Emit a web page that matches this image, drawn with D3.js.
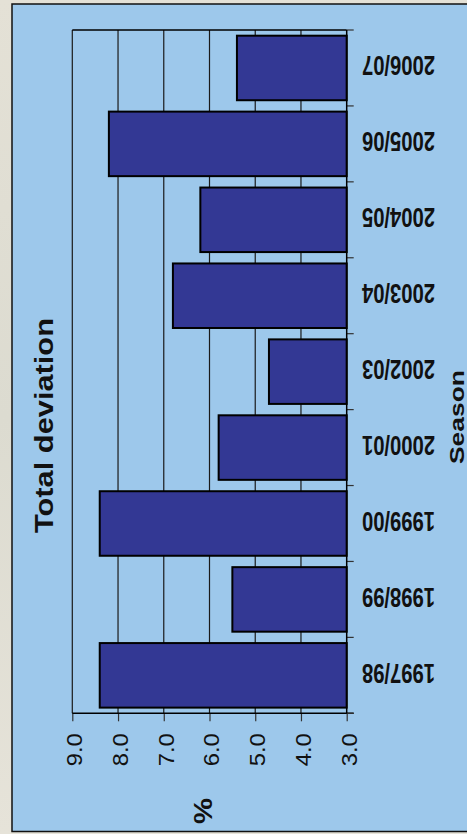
<!DOCTYPE html>
<html>
<head>
<meta charset="utf-8">
<script src="https://cdn.jsdelivr.net/npm/d3@7"></script>
<style>
  html, body { margin: 0; padding: 0; background: #e2dfd4; }
  svg { display: block; }
</style>
</head>
<body>
<script>
// ---- data ----
const categories = ["1997/98", "1998/99", "1999/00", "2000/01", "2002/03", "2003/04", "2004/05", "2005/06", "2006/07"];
const values = [8.4, 5.5, 8.4, 5.8, 4.7, 6.8, 6.2, 8.2, 5.4];
const tickValues = [3, 4, 5, 6, 7, 8, 9];
const tickLabels = ["3.0", "4.0", "5.0", "6.0", "7.0", "8.0", "9.0"];
const titleText = "Total deviation";
const categoryAxisTitle = "Season";
const valueAxisTitle = "%";

const W = 467, H = 834;
const svg = d3.select("body").append("svg").attr("width", W).attr("height", H);

// background texture
const defs = svg.append("defs");
const g1 = defs.append("linearGradient").attr("id", "bg").attr("x1", 0).attr("y1", 0).attr("x2", 0).attr("y2", 1);
g1.append("stop").attr("offset", "0%").attr("stop-color", "#e4e1d6");
g1.append("stop").attr("offset", "50%").attr("stop-color", "#dcdbd0");
g1.append("stop").attr("offset", "100%").attr("stop-color", "#e6e3d9");
svg.append("rect").attr("width", W).attr("height", H).attr("fill", "url(#bg)");

// panel
svg.append("rect")
  .attr("x", 12).attr("y", 4).attr("width", 480).attr("height", 827.5)
  .attr("fill", "#9dc8eb").attr("stroke", "#111").attr("stroke-width", 1.5);

// scales
const plotLeft = 72.3, plotRight = 346.7, plotTop = 30, plotBottom = 713.3;
const x = d3.scaleLinear().domain([3, 9]).range([plotRight, plotLeft]);
const y = d3.scaleBand().domain(categories).range([plotBottom, plotTop])
  .paddingInner(0.15).paddingOuter(0.075);

// gridlines
svg.append("g").selectAll("line").data(tickValues.filter(v => v > 3)).join("line")
  .attr("x1", d => x(d)).attr("x2", d => x(d))
  .attr("y1", plotTop).attr("y2", plotBottom)
  .attr("stroke", "#1a1a1a").attr("stroke-width", 1.2);

// plot top border
svg.append("line").attr("x1", plotLeft).attr("x2", plotRight)
  .attr("y1", plotTop).attr("y2", plotTop).attr("stroke", "#000").attr("stroke-width", 1.5);

// bars
svg.append("g").selectAll("rect").data(categories).join("rect")
  .attr("x", (d, i) => x(values[i]))
  .attr("y", d => y(d))
  .attr("width", (d, i) => x(3) - x(values[i]))
  .attr("height", y.bandwidth())
  .attr("fill", "#333894")
  .attr("stroke", "#000").attr("stroke-width", 2);

// value axis (bottom)
const xAxis = svg.append("g").attr("transform", `translate(0,${plotBottom})`)
  .call(d3.axisBottom(x).tickValues(tickValues).tickSize(8).tickFormat((d, i) => tickLabels[i]));
xAxis.select(".domain").remove();
xAxis.selectAll(".tick line").attr("stroke", "#333").attr("stroke-width", 1.2);
xAxis.selectAll(".tick text")
  .attr("font-family", "'Liberation Sans', Arial, sans-serif")
  .attr("font-size", 22)
  .attr("fill", "#111")
  .attr("text-anchor", "end")
  .attr("y", 0).attr("x", 0).attr("dy", "0.36em")
  .attr("transform", "translate(1.5,20) rotate(-90)")
  .attr("textLength", 33).attr("lengthAdjust", "spacingAndGlyphs");
svg.append("line").attr("x1", plotLeft).attr("x2", plotRight + 7)
  .attr("y1", plotBottom).attr("y2", plotBottom).attr("stroke", "#000").attr("stroke-width", 1.5);

// category axis (right)
const bounds = d3.range(categories.length + 1).map(i => plotBottom - i * (plotBottom - plotTop) / categories.length);
svg.append("g").selectAll("line").data(bounds).join("line")
  .attr("x1", plotRight).attr("x2", plotRight + 7)
  .attr("y1", d => d).attr("y2", d => d)
  .attr("stroke", "#333").attr("stroke-width", 1.2);
svg.append("line").attr("x1", plotRight).attr("x2", plotRight)
  .attr("y1", plotTop).attr("y2", plotBottom).attr("stroke", "#000").attr("stroke-width", 1.5);

svg.append("g").selectAll("text").data(categories).join("text")
  .attr("transform", d => `translate(398.5,${y(d) + y.bandwidth() / 2 - 2}) rotate(180)`)
  .attr("text-anchor", "middle").attr("dy", "0.36em")
  .attr("font-family", "'Liberation Sans', Arial, sans-serif")
  .attr("font-weight", "bold").attr("font-size", 27).attr("fill", "#111")
  .attr("textLength", 73).attr("lengthAdjust", "spacingAndGlyphs")
  .text(d => d);

// titles
svg.append("text")
  .attr("transform", "translate(53,425.5) rotate(-90)")
  .attr("text-anchor", "middle")
  .attr("font-family", "'Liberation Sans', Arial, sans-serif")
  .attr("font-weight", "bold").attr("font-size", 25).attr("fill", "#111")
  .attr("textLength", 215).attr("lengthAdjust", "spacingAndGlyphs")
  .text(titleText);

svg.append("text")
  .attr("transform", "translate(464,417) rotate(-90)")
  .attr("text-anchor", "middle")
  .attr("font-family", "'Liberation Sans', Arial, sans-serif")
  .attr("font-weight", "bold").attr("font-size", 21).attr("fill", "#111")
  .attr("textLength", 94).attr("lengthAdjust", "spacingAndGlyphs")
  .text(categoryAxisTitle);

svg.append("text")
  .attr("transform", "translate(212,811) rotate(-90)")
  .attr("text-anchor", "middle")
  .attr("font-family", "'Liberation Sans', Arial, sans-serif")
  .attr("font-weight", "bold").attr("font-size", 26).attr("fill", "#111")
  .attr("textLength", 26).attr("lengthAdjust", "spacingAndGlyphs")
  .text(valueAxisTitle);
</script>
</body>
</html>
